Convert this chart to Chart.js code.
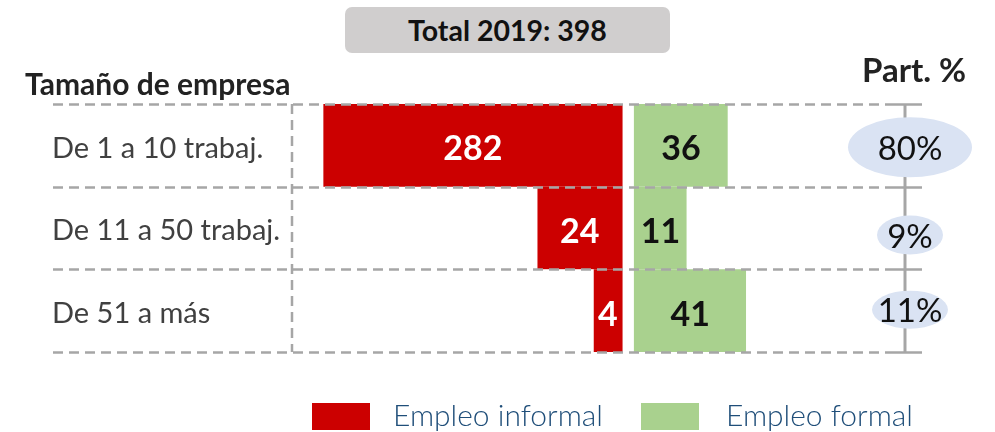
<!DOCTYPE html>
<html lang="es">
<head>
<meta charset="utf-8">
<title>Empleo por tamaño de empresa 2019</title>
<script src="https://cdn.jsdelivr.net/npm/chart.js@4.4.1/dist/chart.umd.min.js"></script>
<style>
  html, body { margin: 0; padding: 0; background: #fff; }
  #wrap { position: relative; width: 995px; height: 432px; overflow: hidden; font-family: Lato, "Open Sans", sans-serif; }
  #chart { position: absolute; left: 0; top: 0; }
  .total-box {
    position: absolute; left: 345px; top: 7px; width: 325px; height: 46px;
    background: #d0cece; border-radius: 7px;
    display: flex; align-items: center; justify-content: center;
    font-weight: 700; font-size: 28.5px; color: #111;
  }
  .head { position: absolute; font-weight: 700; color: #222; line-height: 1; white-space: nowrap; }
  .head.left { left: 25px; top: 68px; font-size: 30px; }
  .head.right { left: 862px; top: 53px; font-size: 33px; }
  .legend { position: absolute; top: 403px; left: 0; width: 995px; height: 27px; }
  .legend .box { position: absolute; top: 0; width: 58px; height: 27px; }
  .legend .txt { position: absolute; top: -7px; font-size: 30px; font-weight: 300; color: #1f4e79; line-height: 1.2; white-space: nowrap; }
</style>
</head>
<body>
<div id="wrap">
  <canvas id="chart" width="995" height="432"></canvas>
  <div class="total-box">Total 2019: 398</div>
  <div class="head left">Tamaño de empresa</div>
  <div class="head right">Part. %</div>
  <div class="legend">
    <div class="box" style="left:312px;background:#cc0000"></div>
    <div class="txt" style="left:393px">Empleo informal</div>
    <div class="box" style="left:641px;background:#a9d18e"></div>
    <div class="txt" style="left:726px">Empleo formal</div>
  </div>
</div>
<script>
// ---- data ----
const categories = ['De 1 a 10 trabaj.', 'De 11 a 50 trabaj.', 'De 51 a más'];
const informalValues = [282, 24, 4];   // labels shown on the red bars
const formalValues   = [36, 11, 41];   // labels shown on the green bars
const shareValues    = [80, 9, 11];    // Part. %
// the source does not draw the bars to scale; these are the drawn lengths
const informalBarLen = [282, 84, 32];
const formalBarLen   = [92, 54, 109];

const RED = '#cc0000';
const GREEN = '#a9d18e';
const LINE = '#a6a6a6';
const GAP = 6;

const decorPlugin = {
  id: 'decor',
  afterDatasetsDraw(chart) {
    const { ctx, chartArea: a, scales: { y } } = chart;
    ctx.save();

    // dashed row separators
    ctx.strokeStyle = LINE;
    ctx.lineWidth = 2.5;
    for (let i = 0; i <= categories.length; i++) {
      const py = Math.round(y.getPixelForValue(i - 0.5)) + 0.5;
      ctx.setLineDash([10, 6]);
      ctx.beginPath(); ctx.moveTo(53, py); ctx.lineTo(a.right - 20, py); ctx.stroke();
      ctx.setLineDash([]);
      ctx.beginPath(); ctx.moveTo(a.right - 20, py); ctx.lineTo(a.right + 17, py); ctx.stroke();
    }
    // dashed vertical line left of the bars
    ctx.setLineDash([10, 6]);
    ctx.beginPath(); ctx.moveTo(a.left, a.top); ctx.lineTo(a.left, a.bottom); ctx.stroke();
    // solid axis on the right
    ctx.setLineDash([]);
    ctx.lineWidth = 3;
    ctx.beginPath(); ctx.moveTo(a.right, a.top); ctx.lineTo(a.right, a.bottom); ctx.stroke();

    // values inside the bars
    ctx.font = '700 34px Lato, "Open Sans", sans-serif';
    ctx.textAlign = 'center';
    ctx.textBaseline = 'middle';
    chart.getDatasetMeta(0).data.forEach((el, i) => {
      ctx.fillStyle = '#fff';
      ctx.fillText(String(informalValues[i]), (el.x + el.base - GAP) / 2, el.y + 4);
    });
    chart.getDatasetMeta(1).data.forEach((el, i) => {
      ctx.fillStyle = '#111';
      ctx.fillText(String(formalValues[i]), (el.x + el.base + GAP) / 2, el.y + 4);
    });

    // Part. % bubbles
    const rx = [62, 33, 38], ry = [30, 19.5, 19];
    const dy = [2, 7, -1];
    ctx.font = '400 33px Lato, "Open Sans", sans-serif';
    shareValues.forEach((v, i) => {
      const cx = a.right + 5, cy = y.getPixelForValue(i) + dy[i];
      ctx.fillStyle = '#dae3f3';
      ctx.beginPath(); ctx.ellipse(cx, cy, rx[i], ry[i], 0, 0, Math.PI * 2); ctx.fill();
      ctx.fillStyle = '#111';
      ctx.fillText(v + '%', cx, cy + 2);
    });
    ctx.restore();
  }
};

new Chart(document.getElementById('chart'), {
  type: 'bar',
  data: {
    labels: categories,
    datasets: [
      {
        label: 'Empleo informal',
        data: informalBarLen.map(v => -v),
        backgroundColor: RED,
        borderColor: '#fff',
        borderWidth: { top: 0, bottom: 0, left: 0, right: GAP },
        borderSkipped: false
      },
      {
        label: 'Empleo formal',
        data: formalBarLen,
        backgroundColor: GREEN,
        borderColor: '#fff',
        borderWidth: { top: 0, bottom: 0, left: GAP, right: 0 },
        borderSkipped: false
      }
    ]
  },
  options: {
    indexAxis: 'y',
    responsive: false,
    animation: false,
    layout: { padding: { top: 104, bottom: 80, left: 52, right: 90 } },
    datasets: { bar: { grouped: false, categoryPercentage: 1, barPercentage: 1 } },
    plugins: { legend: { display: false }, tooltip: { enabled: false } },
    scales: {
      x: { display: false, min: -311, max: 256 },
      y: {
        grid: { display: false },
        border: { display: false },
        afterFit(scale) { scale.width = 240; },
        ticks: {
          crossAlign: 'far',
          color: '#404040',
          font: { family: 'Lato, "Open Sans", sans-serif', size: 29 },
          labelOffset: 3,
          padding: 0
        }
      }
    }
  },
  plugins: [decorPlugin]
});
</script>
</body>
</html>
